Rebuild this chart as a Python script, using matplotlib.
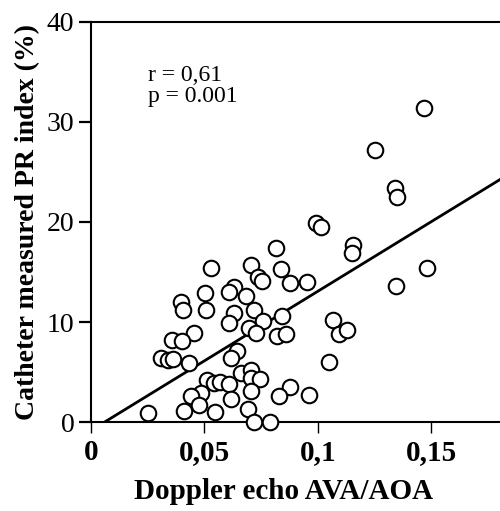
import numpy as np
from matplotlib import pyplot as plt

# Doppler echo AVA/AOA  vs  catheter measured PR index (%)
ava_aoa = [0.1469, 0.1252, 0.1340, 0.1347, 0.0991, 0.1013, 0.1154, 0.1149,
           0.1479, 0.1344, 0.0813, 0.0835, 0.0706, 0.0527, 0.0735, 0.0754,
           0.0878, 0.0952, 0.0630, 0.0608, 0.0501, 0.0685, 0.0395, 0.0407,
           0.0505, 0.0717, 0.0630, 0.0842, 0.0758, 0.0608, 0.1066, 0.0695,
           0.1091, 0.1130, 0.0725, 0.0820, 0.0859, 0.0454, 0.0359, 0.0403,
           0.0644, 0.0615, 0.0307, 0.0341, 0.0361, 0.0432, 0.1047, 0.0659,
           0.0703, 0.0703, 0.0744, 0.0512, 0.0542, 0.0568, 0.0608, 0.0706,
           0.0878, 0.0483, 0.0439, 0.0830, 0.0959, 0.0615, 0.0476, 0.0410,
           0.0546, 0.0693, 0.0249, 0.0717, 0.0788]
pr_index = [31.4, 27.2, 23.4, 22.5, 19.9, 19.5, 17.7, 16.9,
            15.4, 13.6, 17.4, 15.3, 15.7, 15.4, 14.5, 14.1,
            13.9, 14.0, 13.5, 13.0, 12.9, 12.6, 12.0, 11.2,
            11.2, 11.2, 10.9, 10.6, 10.1, 9.9, 10.2, 9.4,
            8.8, 9.2, 8.9, 8.6, 8.8, 8.9, 8.2, 8.1,
            7.1, 6.4, 6.4, 6.2, 6.3, 5.9, 6.0, 4.9,
            5.2, 4.4, 4.3, 4.2, 3.9, 4.0, 3.8, 3.1,
            3.5, 2.9, 2.6, 2.6, 2.7, 2.3, 1.7, 1.1,
            1.0, 1.3, 0.9, 0.0, 0.0]

# regression line
slope = 139.0
intercept = -0.81

x_ticks = [0, 0.05, 0.1, 0.15]
x_ticklabels = ["0", "0,05", "0,1", "0,15"]
y_ticks = [0, 10, 20, 30, 40]

serif = ["Liberation Serif", "DejaVu Serif"]

fig = plt.figure(figsize=(5, 5.11), dpi=100)
ax = fig.add_axes([0.182, 0.1736, 0.818, 0.784])

ax.scatter(ava_aoa, pr_index, s=125, facecolors="white", edgecolors="black",
           linewidths=1.5, zorder=3, clip_on=False)

xl = np.array([-intercept / slope, 0.181])
ax.plot(xl, slope * xl + intercept, color="black", lw=2, zorder=2)

ax.set_xlim(0, 0.1802)
ax.set_ylim(0, 40)
ax.set_xticks(x_ticks)
ax.set_xticklabels(x_ticklabels, fontfamily=serif, fontweight="bold", fontsize=21)
ax.set_yticks(y_ticks)
ax.set_yticklabels([str(v) for v in y_ticks], fontfamily=serif, fontsize=20)
ax.tick_params(axis="x", direction="out", length=8, width=1.0, pad=4)
ax.tick_params(axis="y", direction="out", length=9, width=1.6, pad=3)
ax.spines["right"].set_visible(False)
for s in ["left", "bottom", "top"]:
    ax.spines[s].set_linewidth(1.5)

ax.set_xlabel("Doppler echo AVA/AOA", fontfamily=serif, fontweight="bold", fontsize=21)
ax.xaxis.set_label_coords(0.47, -0.14)
ax.set_ylabel("Catheter measured PR index (%)", fontfamily=serif, fontweight="bold",
              fontsize=20)
ax.yaxis.set_label_coords(-0.125, 0.5)

ax.text(0.0252, 35.7, "r = 0,61\np = 0.001", fontfamily=serif, fontsize=17,
        va="top", ha="left", linespacing=1.0)

plt.savefig("out.png", dpi=100)
